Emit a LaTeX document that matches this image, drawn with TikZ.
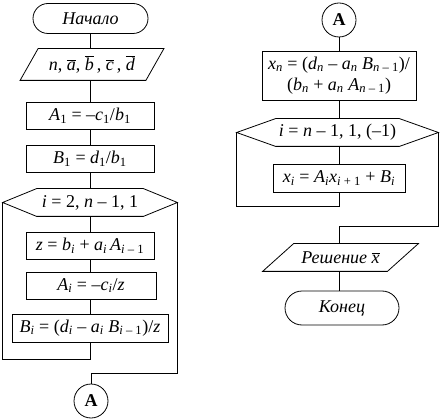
\documentclass[tikz,border=0pt]{standalone}
\usepackage{fontspec}
\setmainfont{Liberation Serif}
\newcommand\itl[1]{\textit{#1}}
\newcommand\subx[1]{\textsubscript{#1}}
\newcommand\ovl[1]{$\overline{\hbox{\textit{#1}}}$}
\begin{document}
\begin{tikzpicture}[x=1pt,y=-1pt,line width=0.8pt,
  font=\fontsize{18}{21}\selectfont,
  box/.style={draw,inner sep=0pt,minimum height=27},
  term/.style={draw,inner sep=0pt,minimum height=30,rounded corners=15pt},
  shapebase/.style={inner sep=0pt,minimum height=27},
  conncirc/.style={draw,circle,inner sep=0pt,minimum size=34}]
\useasboundingbox (0,0) rectangle (441,419);
% ---------- left column ----------
\node[term,minimum width=115] (start) at (90.5,18.5) {\itl{Начало}};
\node[shapebase,minimum width=143,minimum height=31] (in) at (92,64.5)
  {\itl{n}, \ovl{a}, \ovl{b}\,, \ovl{c}\,, \ovl{d}};
\draw ([xshift=18pt]in.north west) -- (in.north east) -- ([xshift=-18pt]in.south east) -- (in.south west) -- cycle;
\node[box,minimum width=128] (a1) at (90,115.5) {\itl{A}\subx{1} = –\itl{c}\subx{1}/\itl{b}\subx{1}};
\node[box,minimum width=128] (b1) at (90,158.5) {\itl{B}\subx{1} = \itl{d}\subx{1}/\itl{b}\subx{1}};
\node[shapebase,minimum width=174] (hexL) at (90,202.5) {\itl{i} = 2, \itl{n} – 1, 1};
\draw (hexL.west) -- ([xshift=34pt]hexL.north west) -- ([xshift=-34pt]hexL.north east) -- (hexL.east)
  -- ([xshift=-34pt]hexL.south east) -- ([xshift=34pt]hexL.south west) -- cycle;
\node[box,minimum width=128] (z) at (90,245.5)
  {\itl{z} = \itl{b}\subx{\itl{i}} + \itl{a}\subx{\itl{i}}\,\itl{A}\subx{\itl{i} – 1}};
\node[box,minimum width=130] (ai) at (91,285.5) {\itl{A}\subx{\itl{i}} = –\itl{c}\subx{\itl{i}}/\itl{z}};
\node[box,minimum width=156,minimum height=28] (bi) at (90,328)
  {\itl{B}\subx{\itl{i}} = (\itl{d}\subx{\itl{i}} – \itl{a}\subx{\itl{i}} \itl{B}\subx{\itl{i} – 1})/\itl{z}};
\node[conncirc] (cA) at (91,401) {\textbf{A}};
\coordinate (lpL) at (90,359);
\coordinate (rpL) at (91,373);
\draw (start.south) -- (start.south |- in.north);
\draw (in.south -| a1.north) -- (a1.north);
\draw (a1.south) -- (b1.north);
\draw (b1.south) -- (b1.south |- hexL.north);
\draw (hexL.south -| z.north) -- (z.north);
\draw (z.south) -- (z.south |- ai.north);
\draw (z.south |- ai.south) -- (bi.north);
\draw (bi.south) -- (lpL) -| (hexL.west);
\draw (hexL.east) |- (rpL) -- (cA.north);
% ---------- right column ----------
\node[conncirc] (cB) at (339,20) {\textbf{A}};
\node[box,minimum width=154,minimum height=49,align=center] (xn) at (339,75.5)
  {\itl{x}\subx{\itl{n}} = (\itl{d}\subx{\itl{n}} – \itl{a}\subx{\itl{n}} \itl{B}\subx{\itl{n} – 1})/\\
   (\itl{b}\subx{\itl{n}} + \itl{a}\subx{\itl{n}} \itl{A}\subx{\itl{n} – 1})};
\node[shapebase,minimum width=201] (hexR) at (337.5,132.5) {\itl{i} = \itl{n} – 1, 1, (–1)};
\draw (hexR.west) -- ([xshift=39pt]hexR.north west) -- ([xshift=-39pt]hexR.north east) -- (hexR.east)
  -- ([xshift=-39pt]hexR.south east) -- ([xshift=39pt]hexR.south west) -- cycle;
\node[box,minimum width=132,minimum height=28] (xi) at (339,178)
  {\itl{x}\subx{\itl{i}} = \itl{A}\subx{\itl{i}}\itl{x}\subx{\itl{i} + 1} + \itl{B}\subx{\itl{i}}};
\node[shapebase,minimum width=155] (out) at (340.5,257.5) {\itl{Решение} \ovl{x}};
\draw ([xshift=31pt]out.north west) -- (out.north east) -- ([xshift=-31pt]out.south east) -- (out.south west) -- cycle;
\node[term,minimum width=114,minimum height=34,rounded corners=17pt] (end) at (342,308) {\itl{Конец}};
\coordinate (lpR) at (339,206);
\coordinate (rpR) at (339,226);
\draw (cB.south) -- (xn.north);
\draw (xn.south) -- (xn.south |- hexR.north);
\draw (xn.south |- hexR.south) -- (xi.north);
\draw (xi.south) -- (lpR) -| (hexR.west);
\draw (hexR.east) |- (rpR) -- (rpR |- out.north);
\draw (rpR |- out.south) -- (rpR |- end.north);
\end{tikzpicture}
\end{document}
